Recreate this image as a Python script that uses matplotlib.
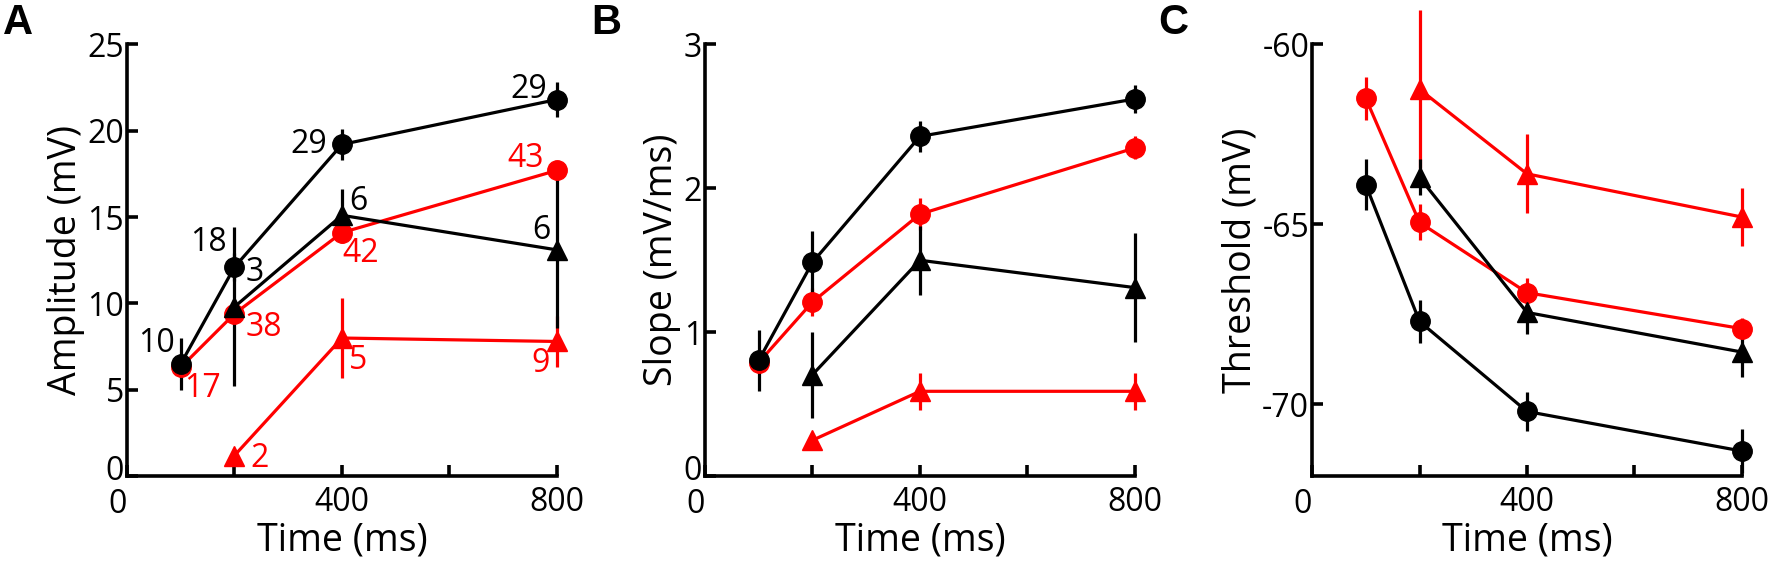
import matplotlib
matplotlib.use('Agg')
import matplotlib.pyplot as plt
import matplotlib.transforms as mtransforms

plt.rcParams['font.family'] = ['Open Sans', 'DejaVu Sans']
plt.rcParams['axes.unicode_minus'] = False

# tiempos (ms)
time_circ = [100, 200, 400, 800]
time_tri = [200, 400, 800]

# A: amplitud (mV)
amp_black_circ = [6.5, 12.1, 19.2, 21.8]
amp_black_circ_err = [1.5, 0.8, 0.9, 1.0]
amp_red_circ = [6.3, 9.4, 14.1, 17.7]
amp_red_circ_err = [0.5, 0.5, 0.6, 0.5]
amp_black_tri = [9.8, 15.1, 13.1]
amp_black_tri_err = [4.6, 1.5, 4.5]
amp_red_tri = [1.2, 8.0, 7.8]
amp_red_tri_err = [0.3, 2.3, 1.5]

# numero de celulas en A
n_labels = ['10', '18', '29', '29', '3', '6', '6',
            '17', '38', '42', '43', '2', '5', '9']
n_x = [90, 186, 373, 782, 220, 413, 772,
       106, 220, 400, 742, 230, 413, 769]
n_y = [7.7, 13.5, 19.2, 22.4, 11.8, 15.9, 14.2,
       5.1, 8.6, 12.9, 18.4, 1.05, 6.7, 6.5]
n_ha = ['right', 'right', 'right', 'right', 'left', 'left', 'center',
        'left', 'left', 'left', 'center', 'left', 'left', 'center']
n_color = ['black'] * 7 + ['red'] * 7

# B: pendiente (mV/ms)
slope_black_circ = [0.805, 1.485, 2.36, 2.62]
slope_black_circ_err = [0.21, 0.22, 0.11, 0.10]
slope_red_circ = [0.79, 1.21, 1.82, 2.28]
slope_red_circ_err = [0.05, 0.10, 0.11, 0.08]
slope_black_tri = [0.705, 1.50, 1.31]
slope_black_tri_err = [0.30, 0.24, 0.38]
slope_red_tri = [0.25, 0.59, 0.59]
slope_red_tri_err = [0.03, 0.13, 0.13]

# C: umbral (mV)
thr_black_circ = [-63.9, -67.7, -70.2, -71.3]
thr_black_circ_err = [0.7, 0.6, 0.55, 0.6]
thr_red_circ = [-61.5, -64.95, -66.9, -67.9]
thr_red_circ_err = [0.6, 0.5, 0.4, 0.3]
thr_black_tri = [-63.7, -67.45, -68.55]
thr_black_tri_err = [0.5, 0.6, 0.7]
thr_red_tri = [-61.25, -63.6, -64.8]
thr_red_tri_err = [2.2, 1.1, 0.8]

fig = plt.figure(figsize=(17.73, 5.67), dpi=100)

tick_fs = 23
label_fs = 27


def draw_series(ax, x, y, err, color, marker):
    ax.errorbar(x, y, yerr=err, color=color, marker=marker, markersize=14,
                linewidth=2.3, elinewidth=2.3, capsize=0, clip_on=False, zorder=3)


def nudge(label, dx, dy):
    shift = mtransforms.ScaledTranslation(dx / 100, dy / 100, fig.dpi_scale_trans)
    label.set_transform(label.get_transform() + shift)


def style_axes(ax, ylim, yticks, ylabel):
    ax.spines['top'].set_visible(False)
    ax.spines['right'].set_visible(False)
    ax.spines['left'].set_linewidth(2.6)
    ax.spines['bottom'].set_linewidth(2.6)
    ax.set_xlim(0, 800)
    ax.set_ylim(*ylim)
    ax.set_xticks([0, 200, 400, 600, 800])
    ax.set_xticklabels(['0', '', '400', '', '800'])
    ax.set_yticks(yticks)
    ax.tick_params(direction='in', length=8, width=2.6, labelsize=tick_fs)
    ax.tick_params(axis='x', pad=7)
    ax.tick_params(axis='y', pad=2)
    ax.set_xlabel('Time (ms)', fontsize=label_fs, labelpad=0)
    ax.set_ylabel(ylabel, fontsize=label_fs, labelpad=2)
    # los "0" de la esquina separados, como en la figura original
    nudge(ax.get_xticklabels()[0], -9, -2)
    if yticks[0] == 0:
        nudge(ax.get_yticklabels()[0], 0, 9)


bottom = 0.16
height = 0.762
width = 0.2425

axA = fig.add_axes([0.0716, bottom, width, height])
draw_series(axA, time_circ, amp_red_circ, amp_red_circ_err, 'red', 'o')
draw_series(axA, time_tri, amp_red_tri, amp_red_tri_err, 'red', '^')
draw_series(axA, time_circ, amp_black_circ, amp_black_circ_err, 'black', 'o')
draw_series(axA, time_tri, amp_black_tri, amp_black_tri_err, 'black', '^')
for t, x, y, ha, c in zip(n_labels, n_x, n_y, n_ha, n_color):
    axA.text(x, y, t, ha=ha, va='center', color=c, fontsize=tick_fs, zorder=5)
style_axes(axA, (0, 25), [0, 5, 10, 15, 20, 25], 'Amplitude (mV)')

axB = fig.add_axes([0.3976, bottom, width, height])
draw_series(axB, time_circ, slope_red_circ, slope_red_circ_err, 'red', 'o')
draw_series(axB, time_tri, slope_red_tri, slope_red_tri_err, 'red', '^')
draw_series(axB, time_circ, slope_black_circ, slope_black_circ_err, 'black', 'o')
draw_series(axB, time_tri, slope_black_tri, slope_black_tri_err, 'black', '^')
style_axes(axB, (0, 3), [0, 1, 2, 3], 'Slope (mV/ms)')

axC = fig.add_axes([0.740, bottom, width, height])
draw_series(axC, time_circ, thr_red_circ, thr_red_circ_err, 'red', 'o')
draw_series(axC, time_tri, thr_red_tri, thr_red_tri_err, 'red', '^')
draw_series(axC, time_circ, thr_black_circ, thr_black_circ_err, 'black', 'o')
draw_series(axC, time_tri, thr_black_tri, thr_black_tri_err, 'black', '^')
style_axes(axC, (-72, -60), [-70, -65, -60], 'Threshold (mV)')

for letter, xpos in [('A', 0.010), ('B', 0.342), ('C', 0.662)]:
    fig.text(xpos, 0.96, letter, fontsize=30, fontweight='bold',
             family='Liberation Sans', va='center', ha='center')

fig.savefig('out.png', dpi=100)
